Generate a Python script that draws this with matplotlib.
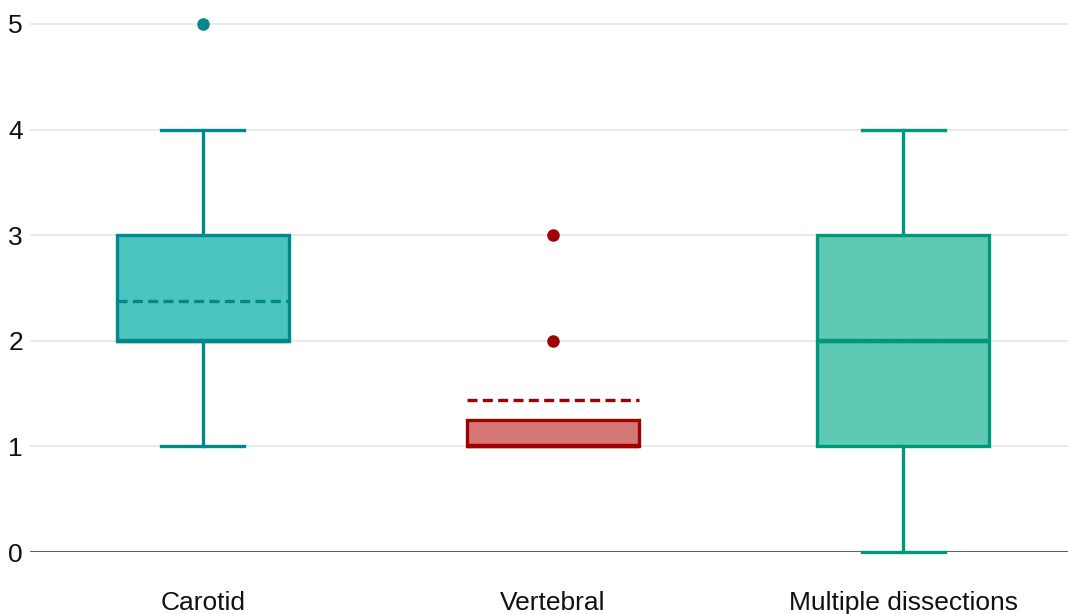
import matplotlib.pyplot as plt

plt.rcParams['font.family'] = ['Liberation Sans', 'DejaVu Sans']

groups = ["Carotid", "Vertebral", "Multiple dissections"]
q1 = [2, 1, 1]
med = [2, 1, 2]
q3 = [3, 1.25, 3]
whislo = [1, 1, 0]
whishi = [4, 1.25, 4]
means = [2.38, 1.44, 2.0]
fliers = [[5], [2, 3], []]

edge_colors = ["#00898a", "#a10000", "#00987a"]
fill_colors = ["#4cc5c1", "#d67878", "#5fcab4"]

stats = []
for i in range(len(groups)):
    stats.append(dict(label=groups[i], q1=q1[i], med=med[i], q3=q3[i],
                      whislo=whislo[i], whishi=whishi[i], mean=means[i],
                      fliers=fliers[i]))

fig = plt.figure(figsize=(10.68, 6.14), dpi=100)
ax = fig.add_axes([30/1068, 62/614, 1038/1068, 552/614])

ax.axhline(0, color="#444444", linewidth=1.2, zorder=1)

bp = ax.bxp(stats, positions=[0, 1, 2], widths=0.49, patch_artist=True,
            showmeans=True, meanline=True, capwidths=[0.237, 0, 0.237])

for i in range(len(groups)):
    c = edge_colors[i]
    bp['boxes'][i].set_facecolor(fill_colors[i])
    bp['boxes'][i].set_edgecolor(c)
    bp['boxes'][i].set_linewidth(2.4)
    bp['medians'][i].set_color(c)
    bp['medians'][i].set_linewidth(3.2)
    bp['means'][i].set_color(c)
    bp['means'][i].set_linestyle((0, (3, 1.6)))
    bp['means'][i].set_linewidth(2.4)
    bp['fliers'][i].set_marker('o')
    bp['fliers'][i].set_markerfacecolor(c)
    bp['fliers'][i].set_markeredgecolor(c)
    bp['fliers'][i].set_markersize(8)
    for w in bp['whiskers'][2*i:2*i+2]:
        w.set_color(c)
        w.set_linewidth(2.4)
        w.set_clip_on(False)
    for cp in bp['caps'][2*i:2*i+2]:
        cp.set_color(c)
        cp.set_linewidth(2.4)
        cp.set_clip_on(False)
        cp.set_zorder(3)
bp['caps'][2].set_visible(False)
bp['caps'][3].set_visible(False)

ax.set_xlim(-0.494, 2.471)
ax.set_ylim(0, 5.227)
ax.set_yticks([0, 1, 2, 3, 4, 5])
ax.yaxis.grid(True, color="#e6e6e6", linewidth=1.2)
ax.set_axisbelow(True)
for s in ax.spines.values():
    s.set_visible(False)
ax.tick_params(axis='both', length=0, labelsize=19, colors="#111111")
ax.tick_params(axis='y', pad=5)
ax.tick_params(axis='x', pad=28)
ax.set_xticks([0, 1, 2])
ax.set_xticklabels(groups)

fig.savefig("out.png", dpi=100)
